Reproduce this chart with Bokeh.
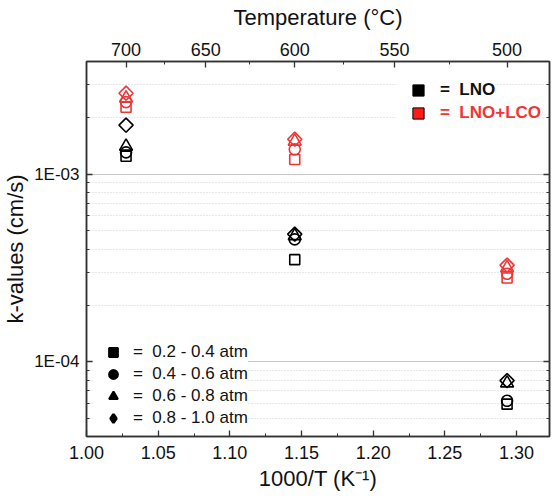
import numpy as np
from bokeh.plotting import figure
from bokeh.models import (Range1d, LogAxis, LinearAxis, FixedTicker, CustomJSTickFormatter,
                          PrintfTickFormatter, Legend, LegendItem)
from bokeh.embed import file_html
from bokeh.resources import INLINE

# ---------------- data ----------------
temps_C = [700, 600, 500]
inv_T = [1000.0 / (t + 273.15) for t in temps_C]

pressure_labels = ["0.2 - 0.4 atm", "0.4 - 0.6 atm", "0.6 - 0.8 atm", "0.8 - 1.0 atm"]

# k-values (cm/s) for LNO at 700, 600, 500 °C
lno_p02_04 = [1.25e-3, 3.51e-4, 5.95e-5]
lno_p04_06 = [1.31e-3, 4.50e-4, 6.20e-5]
lno_p06_08 = [1.41e-3, 4.70e-4, 7.70e-5]
lno_p08_10 = [1.83e-3, 4.80e-4, 7.95e-5]

# k-values (cm/s) for LNO+LCO at 700, 600, 500 °C
lnolco_p02_04 = [2.28e-3, 1.20e-3, 2.80e-4]
lnolco_p04_06 = [2.43e-3, 1.36e-3, 2.95e-4]
lnolco_p06_08 = [2.55e-3, 1.50e-3, 3.17e-4]
lnolco_p08_10 = [2.71e-3, 1.54e-3, 3.28e-4]

series_labels = ["LNO", "LNO+LCO"]

# top-axis temperature ticks (°C)
top_major_C = [700, 650, 600, 550, 500]
top_minor_C = [675, 625, 575, 525]

# ---------------- styling ----------------
FONT = "Liberation Sans"
RED = "#f03535"
AX = "#333333"

p = figure(width=552, height=501, y_axis_type="log",
           x_range=Range1d(1.0, 1.323), y_range=Range1d(4e-5, 4e-3),
           output_backend="svg", toolbar_location=None,
           min_border_left=86, min_border_right=3, min_border_top=61, min_border_bottom=65)

p.background_fill_color = "white"
p.border_fill_color = "white"
p.outline_line_color = AX
p.outline_line_width = 1.5

# y ticks
y_major = [1e-4, 1e-3]
y_minor = [m * 10.0 ** e for e in (-5, -4, -3) for m in range(2, 10)]
yticker = FixedTicker(ticks=y_major, minor_ticks=y_minor)

# x ticks
x_major = [1.00, 1.05, 1.10, 1.15, 1.20, 1.25, 1.30]
x_minor = [1.025, 1.075, 1.125, 1.175, 1.225, 1.275]
xticker = FixedTicker(ticks=x_major, minor_ticks=x_minor)


def style_axis(ax, label_size):
    ax.axis_line_color = AX
    ax.axis_line_width = 1.5
    ax.major_tick_line_color = AX
    ax.minor_tick_line_color = AX
    ax.major_tick_line_width = 1.3
    ax.minor_tick_line_width = 1.0
    ax.major_tick_in = 6
    ax.major_tick_out = 0
    ax.minor_tick_in = 3
    ax.minor_tick_out = 0
    ax.major_label_text_font = FONT
    ax.major_label_text_font_size = label_size
    ax.major_label_text_color = "#111111"
    ax.axis_label_text_font = FONT
    ax.axis_label_text_font_style = "normal"
    ax.axis_label_text_color = "#111111"


xa = p.xaxis[0]
xa.ticker = xticker
xa.formatter = PrintfTickFormatter(format="%.2f")
xa.axis_label = "1000/T (K\u207b\u00b9)"
style_axis(xa, "18px")
xa.axis_label_text_font_size = "22px"
xa.major_label_standoff = 9
xa.axis_label_standoff = 4

ya = p.yaxis[0]
ya.ticker = yticker
ya.major_label_overrides = {1e-4: "1E-04", 1e-3: "1E-03"}
ya.axis_label = "k-values (cm/s)"
style_axis(ya, "17px")
ya.axis_label_text_font_size = "22px"
ya.major_label_standoff = 7
ya.axis_label_standoff = 3

p.xgrid.visible = False
yg = p.ygrid[0]
yg.ticker = yticker
yg.grid_line_color = "#c8c8c8"
yg.grid_line_width = 1
yg.minor_grid_line_color = "#cfcfcf"
yg.minor_grid_line_dash = "1 2"
yg.minor_grid_line_width = 1

right_axis = LogAxis(ticker=yticker,
                     formatter=CustomJSTickFormatter(code="return ''"))
style_axis(right_axis, "10px")
right_axis.major_label_standoff = 0
p.add_layout(right_axis, "right")

top_axis = LinearAxis(
    ticker=FixedTicker(ticks=[1000.0 / (t + 273.15) for t in top_major_C],
                       minor_ticks=[1000.0 / (t + 273.15) for t in top_minor_C]),
    formatter=CustomJSTickFormatter(code="return (1000/tick - 273.15).toFixed(0)"),
    axis_label="Temperature (\u00b0C)")
style_axis(top_axis, "18px")
top_axis.axis_label_text_font_size = "22px"
top_axis.major_label_standoff = 6
top_axis.axis_label_standoff = 10
p.add_layout(top_axis, "above")

# ---------------- data marks ----------------
marker_specs = [("square", 10, 0.0), ("circle", 11, 0.0), ("triangle", 13, 0.0), ("square", 10, np.pi / 4)]
lno_series = [lno_p02_04, lno_p04_06, lno_p06_08, lno_p08_10]
lnolco_series = [lnolco_p02_04, lnolco_p04_06, lnolco_p06_08, lnolco_p08_10]

for vals, (mk, sz, ang) in zip(lno_series, marker_specs):
    p.scatter(inv_T, vals, marker=mk, size=sz, angle=ang, fill_color=None,
              line_color="black", line_width=1.6)
for vals, (mk, sz, ang) in zip(lnolco_series, marker_specs):
    p.scatter(inv_T, vals, marker=mk, size=sz, angle=ang, fill_color=None,
              line_color=RED, line_width=1.6)

# ---------------- legends ----------------
def dummy(marker, fill, line="black", lw=1.0):
    # legend-key renderer: holds no visible point (NaN position)
    return p.scatter(x=[np.nan], y=[np.nan], marker=marker, fill_color=fill,
                     line_color=line, line_width=lw)

leg_common = dict(margin=0, background_fill_color="white", background_fill_alpha=1.0,
                  border_line_color=None, label_text_font=FONT)

r_lno = dummy("square", "black")
r_lco = dummy("square", "#ff1a1a")
leg1 = Legend(items=[LegendItem(label="=  " + series_labels[0], renderers=[r_lno])],
              location=(310, 332), padding=1, glyph_width=44, glyph_height=28,
              label_standoff=0, label_text_font_size="17px", label_text_font_style="bold",
              label_text_color="#111111", **leg_common)
leg2 = Legend(items=[LegendItem(label="=  " + series_labels[1], renderers=[r_lco])],
              location=(310, 309), padding=1, glyph_width=44, glyph_height=28,
              label_standoff=0, label_text_font_size="17px", label_text_font_style="bold",
              label_text_color=RED, **leg_common)

bl_renderers = [dummy("square", "black", lw=2), dummy("circle", "black", lw=2),
                dummy("triangle", "black", lw=2), dummy("diamond", "black", lw=2.6)]
leg3 = Legend(items=[LegendItem(label="=  " + lab, renderers=[r])
                     for lab, r in zip(pressure_labels, bl_renderers)],
              location=(7, 7), padding=8, spacing=0, glyph_width=40, glyph_height=22,
              label_standoff=0, label_text_font_size="17px", label_text_color="#111111",
              **leg_common)

for lg in (leg1, leg2, leg3):
    p.add_layout(lg)

open("out.html", "w").write(file_html(p, INLINE))
